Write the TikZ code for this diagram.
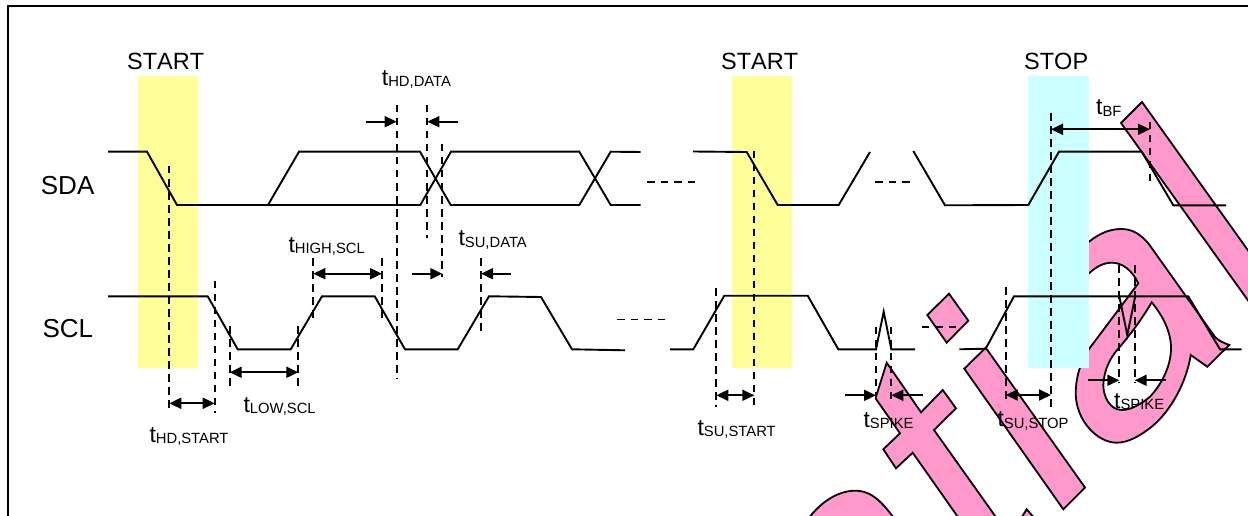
\documentclass[tikz,border=0pt]{standalone}
\usepackage{fontspec}
\setmainfont{Liberation Sans}
\usetikzlibrary{arrows.meta}
\definecolor{wmpink}{HTML}{FF99CC}
\definecolor{boxyellow}{HTML}{FFFF99}
\definecolor{boxcyan}{HTML}{CCFFFF}
\newcommand{\tsub}[1]{{\fontsize{23}{23}\selectfont t}\raisebox{-1.5pt}{\fontsize{14.8}{15}\selectfont #1}}
\newcommand{\nokern}{\addfontfeatures{Kerning=Off}}
\tikzset{
  x=1pt,y=-1pt,
  wave/.style={draw=black,line width=1.9pt,line join=miter},
  dashv/.style={draw=black,line width=2pt,dash pattern=on 7.5pt off 5.5pt},
  dashh/.style={draw=black,line width=1.8pt,dash pattern=on 7.5pt off 6pt},
  wm/.style={fill=wmpink,draw=black,line width=1.8pt,line join=miter,even odd rule},
  tip/.style={line width=1.9pt,-{Triangle[length=12pt,width=11pt]}},
  tips/.style={line width=1.9pt,{Triangle[length=12pt,width=11pt]}-{Triangle[length=12pt,width=11pt]}},
  lab/.style={anchor=base west,inner sep=0pt,font=\fontsize{23.5}{23.5}\selectfont},
  bigl/.style={anchor=base west,inner sep=0pt,font=\fontsize{26}{26}\selectfont},
}
\begin{document}
\begin{tikzpicture}
\useasboundingbox (0,0) rectangle (1248,516);
\clip (0,0) rectangle (1248,516);
% frame
\draw[line width=2pt] (7.5,530) -- (7.5,6) -- (1260,6);
% watermark
\path[wm] (1142,102) -- (1262,270) -- (1262,320) -- (1121,123) -- cycle;
\path[wm] (985.7,347.7) -- (964.3,368.7) -- (1063.3,509.3) -- (1085,487.5) -- cycle;
\path[wm] (1020,520) -- (1026.7,509.3) -- (1036,520) -- cycle;
\path[wm] (949,293.7) -- (927.3,315) -- (946.7,342.7) -- (968.3,320.7) -- cycle;
\path[wm] (886.7,362.7) -- (876,396.7) -- (876,399) -- (900,433.3) -- (883.3,449.3) -- (896,468.3) -- (912.7,452.7) -- (960,520) -- (998,520) -- (934,430) -- (956,408.3) -- (942.7,390) -- (921,412.3) -- cycle;
\path[wm] (804,525) .. controls (820,500) and (840,490.7) .. (855,490.7) .. controls (872,490.7) and (882,502) .. (897,522) -- cycle;
\path[wm] (1075,247) -- (1089,241.7) .. controls (1100,233) and (1110,229) .. (1121.7,229)
  .. controls (1133,229) and (1141,235) .. (1148.3,243.3)
  -- (1215,337) .. controls (1219,341) and (1224,343) .. (1229.3,345)
  -- (1207.3,366.7) -- (1190.7,355)
  .. controls (1187,380) and (1172,410) .. (1151.7,426.7)
  .. controls (1140,436) and (1128,442.7) .. (1116.7,442.7)
  .. controls (1097,442.7) and (1075.7,420) .. (1075.7,393.3)
  .. controls (1075.7,378) and (1080,363) .. (1089,349)
  -- (1138.3,283.3)
  .. controls (1132,270) and (1122,262.7) .. (1112,262.7)
  .. controls (1103,262.7) and (1096,267) .. (1089,273.3)
  -- (1075,280) -- cycle
  (1151.7,302.3) .. controls (1163,316) and (1171,332) .. (1171,348)
  .. controls (1171,368) and (1160,386) .. (1150,396.7)
  .. controls (1140,405) and (1130,410) .. (1122,410)
  .. controls (1110,410) and (1103.3,397) .. (1103.3,385)
  .. controls (1104,370) and (1110,358) .. (1118,349)
  .. controls (1130,335) and (1142,319) .. (1151.7,302.3) -- cycle;
% highlight bands
\fill[boxyellow] (138,76) rectangle (198,367.7);
\fill[boxyellow] (732,76) rectangle (792,367.7);
\fill[boxcyan] (1028,76) rectangle (1089,367.7);
% SDA
\draw[wave] (108,151.7) -- (147,151.7) -- (177,205) -- (268,205) -- (299,151.7) -- (420,151.7) -- (450.7,205) -- (579.3,205) -- (610.7,151.7) -- (640.7,152);
\draw[wave] (268,205) -- (420.3,205) -- (451,151.7) -- (579.3,151.7) -- (610.7,205) -- (640.7,205);
\draw[wave] (693,151.5) -- (746.7,152) -- (777.7,205) -- (838.7,205) -- (870,152);
\draw[wave] (913.3,151) -- (945,205.3) -- (1028.3,205) -- (1059,151.7) -- (1141.7,151.7) -- (1173.3,205.3) -- (1226,205.3);
\draw[dashh] (647.3,182.3) -- (697,182.3);
\draw[dashh] (875,182.3) -- (911.7,182.3);
% SCL
\draw[wave] (108,296.3) -- (207.7,296.3) -- (237.7,349.3) -- (290.7,349.3) -- (322,296.3) -- (374.7,296.3) -- (405,349.3) -- (457.7,349.3) -- (489,296.3) -- (541,297) -- (572,349.3) -- (625,350.3);
\draw[dashh] (617,319.5) -- (667,319.5);
\draw[wave] (670,349.3) -- (693.3,349.3) -- (724.3,295.7) -- (807.7,295.7) -- (838.3,349.3) -- (876,349.3) -- (883.7,311.7) -- (891.3,349.3) -- (915,349.3);
\draw[dashh] (921.5,326.7) -- (957.3,326.7);
\draw[wave] (959.3,349.3) -- (985.7,348.7) -- (1014,296.3) -- (1188.3,296.3) -- (1220,349.3) -- (1241.7,349.3);
\draw[wave] (1119.3,296.3) -- (1127.3,335) -- (1135.2,296.3);
% dashed verticals
\foreach \vx/\va/\vb in {169.3/166/410,214.7/280.7/413.3,229.7/326/388.3,298.3/326/388.3,313.3/258.3/320.7,382/258.3/320.7,396.7/105/378.3,427.3/105/238.3,442.3/144/276.7,481/258/335,716.3/288.3/406.7,754.3/150.7/410,876/326.7/403.3,891.3/326.7/403.3,1005.7/287.3/403.3,1051/113.3/411.7,1119.3/265/383,1134.7/265/383,1150/121.7/184}
  \draw[dashv] (\vx,\va) -- (\vx,\vb);
% arrows
\draw[tips] (169.3,403.3) -- (214.7,403.3);
\draw[tips] (229.7,372.3) -- (298.3,372.3);
\draw[tips] (313.3,273.7) -- (382,273.7);
\draw[tip] (365.7,121.7) -- (396.7,121.7);
\draw[tip] (457.7,121.7) -- (427.3,121.7);
\draw[tip] (411.7,273.7) -- (442.3,273.7);
\draw[tip] (511,273.7) -- (481,273.7);
\draw[tips] (716.3,395.3) -- (754.3,395.3);
\draw[tip] (845,395.3) -- (876,395.3);
\draw[tip] (922.7,395.3) -- (891.3,395.3);
\draw[tips] (1005.7,395) -- (1051,395);
\draw[tip] (1088.3,380.3) -- (1119.3,380.3);
\draw[tip] (1165.7,380.3) -- (1134.7,380.3);
\draw[tips] (1051,129.3) -- (1150,129.3);
% labels
\node[lab] (start1) at (127,70) {\nokern START};
\node[lab] (start2) at (721,70) {\nokern START};
\node[lab] (stop) at (1024,70) {\nokern STOP};
\node[bigl] (sda) at (40.7,194) {\nokern SDA};
\node[bigl] (scl) at (42.3,337.7) {\nokern SCL};
\node[lab] (thddata) at (381.7,85.5) {\tsub{HD,DATA}};
\node[lab] (thigh) at (288.3,252.3) {\tsub{HIGH,SCL}};
\node[lab] (tsudata) at (458.3,245.5) {\tsub{SU,DATA}};
\node[lab] (tlow) at (243.3,412.3) {\tsub{LOW,SCL}};
\node[lab] (thdstart) at (149.3,442) {\tsub{HD,START}};
\node[lab] (tsustart) at (697.3,435) {\tsub{SU,START}};
\node[lab] (tspikea) at (863.3,427.3) {\tsub{SPIKE}};
\node[lab] (tbf) at (1096,115) {\tsub{BF}};
\node[lab] (tsustop) at (997.3,426.7) {\tsub{SU,STOP}};
\node[lab] (tspikeb) at (1114,408.3) {\tsub{SPIKE}};
\end{tikzpicture}
\end{document}
